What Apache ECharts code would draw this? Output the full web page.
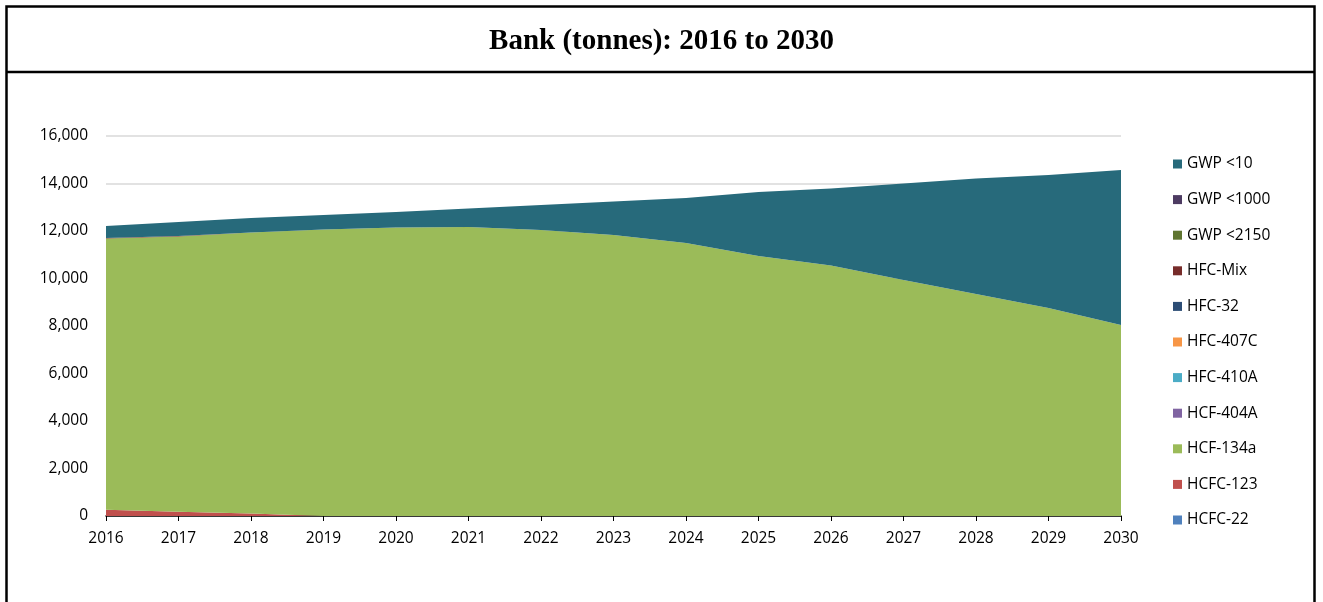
<!DOCTYPE html>
<html>
<head>
<meta charset="utf-8">
<script src="https://cdn.jsdelivr.net/npm/echarts@6/dist/echarts.min.js"></script>
<style>
  html, body { margin: 0; padding: 0; background: #fff; }
  #chart { width: 1323px; height: 602px; }
</style>
</head>
<body>
<div id="chart"></div>
<script>
// Years on the horizontal axis
const years = ['2016','2017','2018','2019','2020','2021','2022','2023','2024','2025','2026','2027','2028','2029','2030'];

// Refrigerant bank per group, tonnes (stacked bottom to top)
const hcfc22    = [0, 0, 0, 0, 0, 0, 0, 0, 0, 0, 0, 0, 0, 0, 0];
const hcfc123   = [265, 180, 110, 0, 0, 0, 0, 0, 0, 0, 0, 0, 0, 0, 0];
const hcf134a   = [11420, 11590, 11830, 12060, 12150, 12170, 12040, 11830, 11500, 10950, 10550, 9940, 9350, 8760, 8040];
const hcf404a   = [0, 0, 0, 0, 0, 0, 0, 0, 0, 0, 0, 0, 0, 0, 0];
const hfc410a   = [0, 0, 0, 0, 0, 0, 0, 0, 0, 0, 0, 0, 0, 0, 0];
const hfc407c   = [0, 0, 0, 0, 0, 0, 0, 0, 0, 0, 0, 0, 0, 0, 0];
const hfc32     = [0, 0, 0, 0, 0, 0, 0, 0, 0, 0, 0, 0, 0, 0, 0];
const hfcMix    = [20, 20, 0, 0, 0, 0, 0, 0, 0, 0, 0, 0, 0, 0, 0];
const gwp2150   = [0, 0, 0, 0, 0, 0, 0, 0, 0, 0, 0, 0, 0, 0, 0];
const gwp1000   = [0, 0, 0, 0, 0, 0, 0, 0, 0, 0, 0, 0, 0, 0, 0];
const gwp10     = [505, 590, 610, 610, 650, 780, 1050, 1410, 1890, 2690, 3240, 4060, 4860, 5600, 6530];

// Y axis ticks
const yTicks = [0, 2000, 4000, 6000, 8000, 10000, 12000, 14000, 16000];

const seriesDefs = [
  { name: 'HCFC-22',   data: hcfc22,  color: '#4f81bd' },
  { name: 'HCFC-123',  data: hcfc123, color: '#c0504d' },
  { name: 'HCF-134a',  data: hcf134a, color: '#9bbb59' },
  { name: 'HCF-404A',  data: hcf404a, color: '#8064a2' },
  { name: 'HFC-410A',  data: hfc410a, color: '#4bacc6' },
  { name: 'HFC-407C',  data: hfc407c, color: '#f79646' },
  { name: 'HFC-32',    data: hfc32,   color: '#2c4d75' },
  { name: 'HFC-Mix',   data: hfcMix,  color: '#772c2a' },
  { name: 'GWP <2150', data: gwp2150, color: '#5f7530' },
  { name: 'GWP <1000', data: gwp1000, color: '#4d3b62' },
  { name: 'GWP <10',   data: gwp10,   color: '#276a7b' }
];

const font = '"Open Sans", "Noto Sans", sans-serif';

const chart = echarts.init(document.getElementById('chart'), null, { renderer: 'canvas' });

chart.setOption({
  animation: false,
  backgroundColor: '#ffffff',
  title: {
    text: 'Bank (tonnes): 2016 to 2030',
    left: 'center',
    top: 22,
    textStyle: {
      fontFamily: '"Liberation Serif", "Times New Roman", serif',
      fontWeight: 'bold',
      fontSize: 29,
      color: '#000'
    }
  },
  graphic: [
    {
      type: 'rect',
      shape: { x: 6.5, y: 6.5, width: 1308, height: 700 },
      style: { fill: 'none', stroke: '#000', lineWidth: 2.5 },
      silent: true
    },
    {
      type: 'line',
      shape: { x1: 6.5, y1: 72, x2: 1314.5, y2: 72 },
      style: { stroke: '#000', lineWidth: 2.5 },
      silent: true
    }
  ],
  legend: {
    orient: 'vertical',
    left: 1173,
    top: 156,
    padding: 0,
    itemWidth: 9,
    itemHeight: 9,
    itemGap: 19.6,
    icon: 'rect',
    data: seriesDefs.map(s => s.name).reverse(),
    textStyle: {
      fontFamily: font,
      fontSize: 15.5,
      lineHeight: 10,
      verticalAlign: 'top',
      color: '#000'
    }
  },
  grid: {
    left: 106,
    right: 202,
    top: 136,
    bottom: 86,
    containLabel: false
  },
  xAxis: {
    type: 'category',
    data: years,
    boundaryGap: false,
    axisLine: { show: true, lineStyle: { color: '#000', width: 1.5 } },
    axisTick: { show: true, alignWithLabel: true, length: 5, lineStyle: { color: '#000' } },
    axisLabel: {
      fontFamily: font,
      fontSize: 15.5,
      color: '#000',
      margin: 15
    },
    splitLine: { show: false }
  },
  yAxis: {
    type: 'value',
    min: yTicks[0],
    max: yTicks[yTicks.length - 1],
    interval: yTicks[1] - yTicks[0],
    axisLine: { show: false },
    axisTick: { show: false },
    axisLabel: {
      fontFamily: font,
      fontSize: 15.5,
      color: '#000',
      margin: 18,
      formatter: v => v.toLocaleString('en-US')
    },
    splitLine: { show: true, lineStyle: { color: '#d9d9d9', width: 1.5 } }
  },
  series: seriesDefs.map(s => ({
    name: s.name,
    type: 'line',
    stack: 'bank',
    data: s.data,
    symbol: 'none',
    showSymbol: false,
    lineStyle: { width: 0 },
    itemStyle: { color: s.color },
    areaStyle: { color: s.color, opacity: 1 }
  }))
});
</script>
</body>
</html>
